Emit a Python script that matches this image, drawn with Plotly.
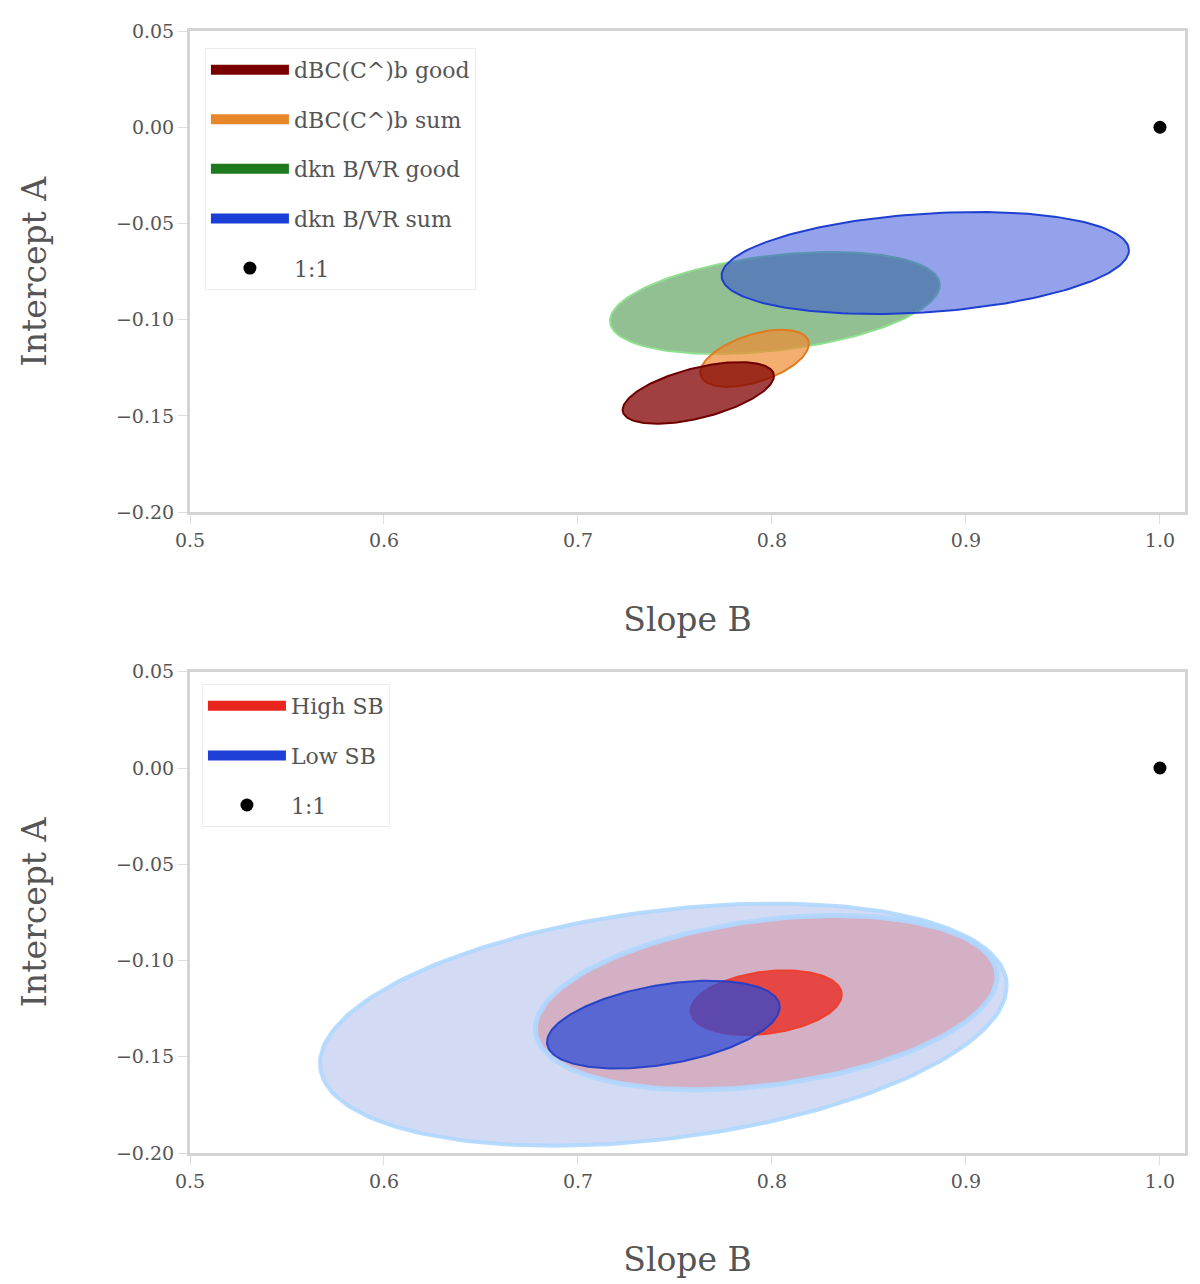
import numpy as np
import plotly.graph_objects as go
from plotly.subplots import make_subplots

# ---------------- data ----------------
# Top panel: one confidence ellipse per sample
top_names = ["dBC(C^)b good", "dBC(C^)b sum", "dkn B/VR good", "dkn B/VR sum"]
top_center_B = [0.762, 0.791, 0.8015, 0.879]
top_center_A = [-0.138, -0.120, -0.0913, -0.0705]
top_halfwidth_B = [0.039, 0.028, 0.085, 0.105]
top_halfwidth_A = [0.016, 0.0148, 0.0265, 0.0265]
top_corr = [0.55, 0.5, 0.35, 0.25]

# Bottom panel: inner and outer confidence ellipses per sample
bot_names = ["High SB", "Low SB"]
bot_center_B = [0.797, 0.744]
bot_center_A = [-0.1219, -0.1333]
bot_inner_halfwidth_B = [0.039, 0.060]
bot_inner_halfwidth_A = [0.0168, 0.0228]
bot_outer_halfwidth_B = [0.119, 0.177]
bot_outer_halfwidth_A = [0.0453, 0.0629]
bot_corr_inner = [0.25, 0.4]
bot_corr_outer = [0.3, 0.32]

one_to_one_B = [1.0]
one_to_one_A = [0.0]

x_ticks = [0.5, 0.6, 0.7, 0.8, 0.9, 1.0]
y_ticks = [0.05, 0.00, -0.05, -0.10, -0.15, -0.20]

# ---------------- styling ----------------
top_line = ["#6e0000", "#e07b20", "#8fe08f", "#1f3fd0"]
top_fill = ["rgba(128,0,0,0.75)", "rgba(240,140,50,0.7)",
            "rgba(40,130,40,0.5)", "rgba(40,70,215,0.5)"]
top_legend_col = ["#7a0000", "#e8862a", "#1e7a1e", "#1a3fd6"]
top_draw_order = [2, 3, 1, 0]

bot_legend_col = ["#e8241c", "#1f40d6"]

FONT = "DejaVu Serif"
TXT = "#555555"


def ellipse(cx, cy, hx, hy, rho, n=200):
    t = np.linspace(0, 2 * np.pi, n)
    x = cx + hx * np.cos(t)
    y = cy + hy * (rho * np.cos(t) + np.sqrt(1 - rho ** 2) * np.sin(t))
    return x, y


fig = make_subplots(rows=2, cols=1, vertical_spacing=0.1422)

# ---- top panel ----
for i in top_draw_order:
    ex, ey = ellipse(top_center_B[i], top_center_A[i], top_halfwidth_B[i],
                     top_halfwidth_A[i], top_corr[i])
    fig.add_trace(go.Scatter(x=ex, y=ey, mode="lines", fill="toself",
                             fillcolor=top_fill[i],
                             line=dict(color=top_line[i], width=2),
                             showlegend=False, hoverinfo="skip"), row=1, col=1)

for i in range(len(top_names)):
    fig.add_trace(go.Scatter(x=[None], y=[None], mode="lines",
                             line=dict(color=top_legend_col[i], width=13),
                             name=top_names[i], legend="legend",
                             legendgroup="t%d" % i), row=1, col=1)

fig.add_trace(go.Scatter(x=one_to_one_B, y=one_to_one_A, mode="markers",
                         marker=dict(color="black", size=13), name="1:1",
                         legend="legend", legendgroup="t1to1"), row=1, col=1)

# ---- bottom panel ----
ox, oy = ellipse(bot_center_B[1], bot_center_A[1], bot_outer_halfwidth_B[1],
                 bot_outer_halfwidth_A[1], bot_corr_outer[1])
fig.add_trace(go.Scatter(x=ox, y=oy, mode="lines", fill="toself",
                         fillcolor="rgba(195,205,240,0.75)",
                         line=dict(color="rgba(175,215,255,0.9)", width=4),
                         showlegend=False, hoverinfo="skip"), row=2, col=1)

ox, oy = ellipse(bot_center_B[0], bot_center_A[0], bot_outer_halfwidth_B[0],
                 bot_outer_halfwidth_A[0], bot_corr_outer[0])
fig.add_trace(go.Scatter(x=ox, y=oy, mode="lines", fill="toself",
                         fillcolor="rgba(215,120,130,0.42)",
                         line=dict(color="rgba(175,215,255,0.9)", width=5),
                         showlegend=False, hoverinfo="skip"), row=2, col=1)

ix, iy = ellipse(bot_center_B[0], bot_center_A[0], bot_inner_halfwidth_B[0],
                 bot_inner_halfwidth_A[0], bot_corr_inner[0])
fig.add_trace(go.Scatter(x=ix, y=iy, mode="lines", fill="toself",
                         fillcolor="rgba(235,45,35,0.8)",
                         line=dict(color="rgba(240,60,40,0.9)", width=2),
                         showlegend=False, hoverinfo="skip"), row=2, col=1)

bx, by = ellipse(bot_center_B[1], bot_center_A[1], bot_inner_halfwidth_B[1],
                 bot_inner_halfwidth_A[1], bot_corr_inner[1])
fig.add_trace(go.Scatter(x=bx, y=by, mode="lines", fill="toself",
                         fillcolor="rgba(40,75,215,0.72)",
                         line=dict(color="rgba(30,60,200,0.9)", width=2),
                         showlegend=False, hoverinfo="skip"), row=2, col=1)

for i in range(len(bot_names)):
    fig.add_trace(go.Scatter(x=[None], y=[None], mode="lines",
                             line=dict(color=bot_legend_col[i], width=13),
                             name=bot_names[i], legend="legend2",
                             legendgroup="b%d" % i), row=2, col=1)

fig.add_trace(go.Scatter(x=one_to_one_B, y=one_to_one_A, mode="markers",
                         marker=dict(color="black", size=13), name="1:1",
                         legend="legend2", legendgroup="b1to1"), row=2, col=1)

# ---- axes ----
axis_common = dict(showgrid=False, zeroline=False, showline=True, mirror=True,
                   linecolor="#d4d4d4", linewidth=3, ticks="outside",
                   ticklen=9, tickcolor="#dddddd",
                   tickfont=dict(family=FONT, size=19, color=TXT))
for r in (1, 2):
    fig.update_xaxes(range=[0.5, 1.0129], tickvals=x_ticks, tickformat=".1f",
                     title=dict(text="Slope B", standoff=58,
                                font=dict(family=FONT, size=33, color=TXT)),
                     row=r, col=1, **axis_common)
    fig.update_yaxes(range=[-0.2, 0.05], tickvals=y_ticks, tickformat=".2f",
                     title=dict(text="Intercept A", standoff=60,
                                font=dict(family=FONT, size=33, color=TXT)),
                     row=r, col=1, **axis_common)

legend_common = dict(bgcolor="rgba(255,255,255,0.85)", bordercolor="#ececec",
                     borderwidth=1, font=dict(family=FONT, size=22, color=TXT),
                     traceorder="grouped", tracegroupgap=18,
                     xanchor="left", yanchor="top", itemwidth=78)

fig.update_layout(
    width=1200, height=1284,
    margin=dict(l=182, r=23, t=20, b=139),
    paper_bgcolor="white", plot_bgcolor="white",
    legend=dict(x=0.015, y=0.985, **legend_common),
    legend2=dict(x=0.012, y=0.418, **legend_common),
)

fig.write_html("out.html")
